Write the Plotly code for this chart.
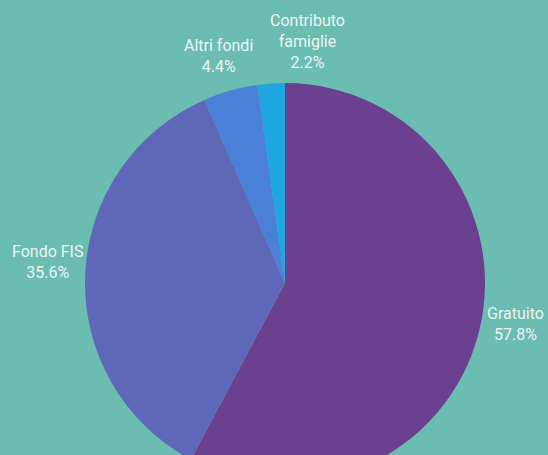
import plotly.graph_objects as go

labels = ["Gratuito", "Fondo FIS", "Altri fondi", "Contributo<br>famiglie"]
values = [57.8, 35.6, 4.4, 2.2]
colors = ["#6c4091", "#5e67b8", "#4a80d5", "#1fa6e0"]

# label anchor positions (paper coordinates of the pie domain)
label_x = [1.075, -0.095, 0.334, 0.555]
label_y = [0.3975, 0.5525, 1.0675, 1.104]

bg = "#6bbdb2"
text_color = "#eaf5f2"

fig = go.Figure(
    go.Pie(
        labels=labels,
        values=values,
        sort=False,
        direction="clockwise",
        rotation=0,
        marker=dict(colors=colors, line=dict(width=0)),
        textinfo="none",
        showlegend=False,
        hoverinfo="label+percent",
    )
)

total = sum(values)
for lab, v, x, y in zip(labels, values, label_x, label_y):
    fig.add_annotation(
        x=x, y=y, xref="paper", yref="paper",
        text=f"{lab}<br>{v / total * 100:.1f}%",
        showarrow=False,
        xanchor="center", yanchor="middle",
        font=dict(family="Roboto", size=16, color=text_color),
    )

fig.update_layout(
    width=548,
    height=483,
    margin=dict(l=85, r=63, t=83, b=0),
    paper_bgcolor=bg,
    plot_bgcolor=bg,
)

fig.write_html(
    "out.html",
    config={"displayModeBar": False},
    post_script="document.body.style.margin='0';document.body.style.overflow='hidden';document.documentElement.style.overflow='hidden';",
)
